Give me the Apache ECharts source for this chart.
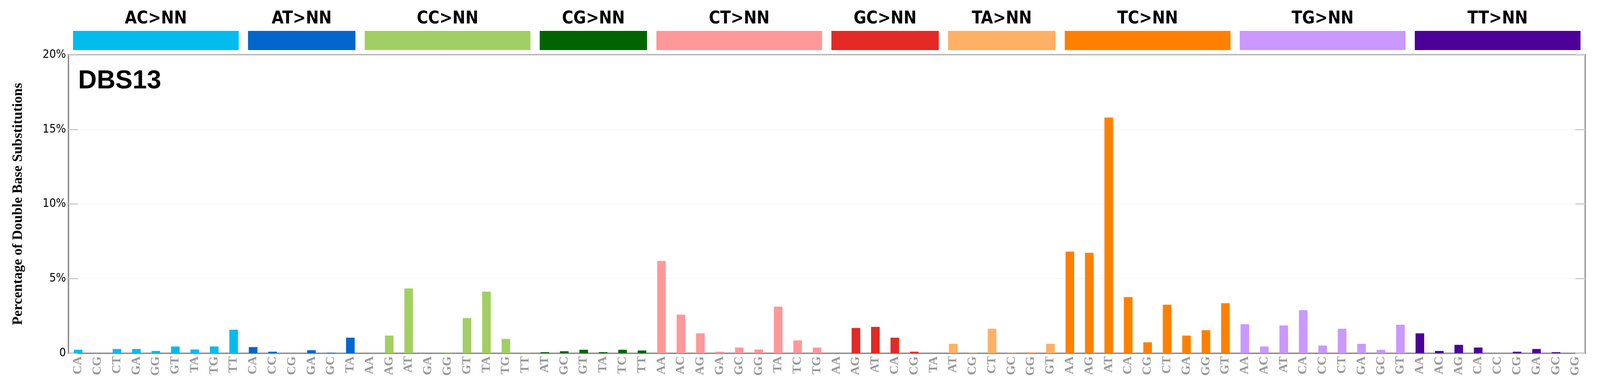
<!DOCTYPE html>
<html>
<head>
<meta charset="utf-8">
<script src="https://cdn.jsdelivr.net/npm/echarts@6/dist/echarts.min.js"></script>
<style>html,body{margin:0;padding:0;background:#fff;overflow:hidden}#main{width:100vw;height:100vh}</style>
</head>
<body>
<div id="main"></div>
<script>
var groups = ["AC>NN", "AT>NN", "CC>NN", "CG>NN", "CT>NN", "GC>NN", "TA>NN", "TC>NN", "TG>NN", "TT>NN"];
var groupColors = ["#03BCEE", "#0366CC", "#A2CF63", "#006501", "#FF9898", "#E22925", "#FEB065", "#FF8001", "#CB98FD", "#4C0199"];
var groupTargets = [
    ["CA", "CG", "CT", "GA", "GG", "GT", "TA", "TG", "TT"],
    ["CA", "CC", "CG", "GA", "GC", "TA"],
    ["AA", "AG", "AT", "GA", "GG", "GT", "TA", "TG", "TT"],
    ["AT", "GC", "GT", "TA", "TC", "TT"],
    ["AA", "AC", "AG", "GA", "GC", "GG", "TA", "TC", "TG"],
    ["AA", "AG", "AT", "CA", "CG", "TA"],
    ["AT", "CG", "CT", "GC", "GG", "GT"],
    ["AA", "AG", "AT", "CA", "CG", "CT", "GA", "GG", "GT"],
    ["AA", "AC", "AT", "CA", "CC", "CT", "GA", "GC", "GT"],
    ["AA", "AC", "AG", "CA", "CC", "CG", "GA", "GC", "GG"]
];
var groupValues = [
    [0.23, 0, 0.28, 0.28, 0.15, 0.45, 0.25, 0.45, 1.57],
    [0.41, 0.10, 0, 0.20, 0.03, 1.04],
    [0, 1.18, 4.34, 0, 0.05, 2.35, 4.13, 0.96, 0.03],
    [0.07, 0.13, 0.23, 0.07, 0.23, 0.18],
    [6.18, 2.58, 1.33, 0.10, 0.38, 0.25, 3.12, 0.86, 0.38],
    [0, 1.69, 1.76, 1.04, 0.10, 0],
    [0.63, 0.03, 1.64, 0.03, 0.07, 0.63],
    [6.81, 6.73, 15.79, 3.76, 0.73, 3.25, 1.18, 1.54, 3.35],
    [1.94, 0.45, 1.86, 2.88, 0.51, 1.64, 0.63, 0.23, 1.91],
    [1.33, 0.15, 0.56, 0.38, 0, 0.10, 0.28, 0.07, 0]
];
var yTicks = [0, 5, 10, 15, 20];

var cats = [], vals = [], ranges = [];
for (var g = 0; g < groups.length; g++) {
    var start = cats.length;
    for (var k = 0; k < groupTargets[g].length; k++) {
        cats.push(groups[g] + ":" + groupTargets[g][k]);
        vals.push({value: groupValues[g][k], itemStyle: {color: groupColors[g]}});
    }
    ranges.push([start, cats.length - 1]);
}

var chart = echarts.init(document.getElementById("main"));
var option = {
    backgroundColor: "#fff",
    animation: false,
    grid: {left: 175, right: 38, top: 140, bottom: 89, show: true, borderColor: "#888", borderWidth: 3},
    xAxis: {
        type: "category",
        data: cats,
        axisTick: {show: false},
        axisLine: {lineStyle: {color: "#888", width: 3}},
        axisLabel: {
            rotate: 90, interval: 0, color: "#999", fontFamily: "Liberation Serif",
            fontWeight: "bold", fontSize: 32, margin: 8,
            formatter: function (v) { return v.split(":")[1]; }
        }
    },
    yAxis: [{
        type: "value", min: yTicks[0], max: yTicks[yTicks.length - 1], interval: 5,
        name: "Percentage of Double Base Substitutions",
        nameLocation: "middle", nameGap: 110,
        nameTextStyle: {fontFamily: "Liberation Serif", fontWeight: "bold", fontSize: 36, color: "#000"},
        axisLine: {show: true, lineStyle: {color: "#888", width: 3}},
        axisTick: {show: true, length: 25, inside: true, lineStyle: {color: "#ccc", width: 3}},
        axisLabel: {
            color: "#000", fontFamily: "DejaVu Sans Condensed", fontSize: 30, margin: 6,
            formatter: function (v) { return v === 0 ? "0" : v + "%"; }
        },
        splitLine: {lineStyle: {color: "#eee", width: 1}}
    }, {
        type: "value", min: 0, max: 20, interval: 5, position: "right",
        axisLine: {show: false},
        axisTick: {show: true, inside: true, length: 25, lineStyle: {color: "#ccc", width: 3}},
        axisLabel: {show: false},
        splitLine: {show: false}
    }],
    series: [{
        type: "bar",
        data: vals,
        barWidth: 22
    }],
    graphic: [{
        type: "text", left: 200, top: 175,
        style: {text: "DBS13", fontFamily: "Liberation Sans", fontWeight: "bold", fontSize: 66, fill: "#000"}
    }]
};
chart.setOption(option);

var extra = option.graphic.slice();
for (var i = 0; i < groups.length; i++) {
    var x0 = chart.convertToPixel({xAxisIndex: 0}, ranges[i][0]) - 13;
    var x1 = chart.convertToPixel({xAxisIndex: 0}, ranges[i][1]) + 13;
    extra.push({type: "rect", shape: {x: x0, y: 79, width: x1 - x0, height: 49}, style: {fill: groupColors[i]}});
    extra.push({
        type: "text", x: (x0 + x1) / 2, y: 49,
        style: {text: groups[i], fontFamily: "DejaVu Sans Condensed", fontWeight: "bold", fontSize: 44,
            fill: "#000", textAlign: "center", textVerticalAlign: "middle"}
    });
}
chart.setOption({graphic: extra});
</script>
</body>
</html>
